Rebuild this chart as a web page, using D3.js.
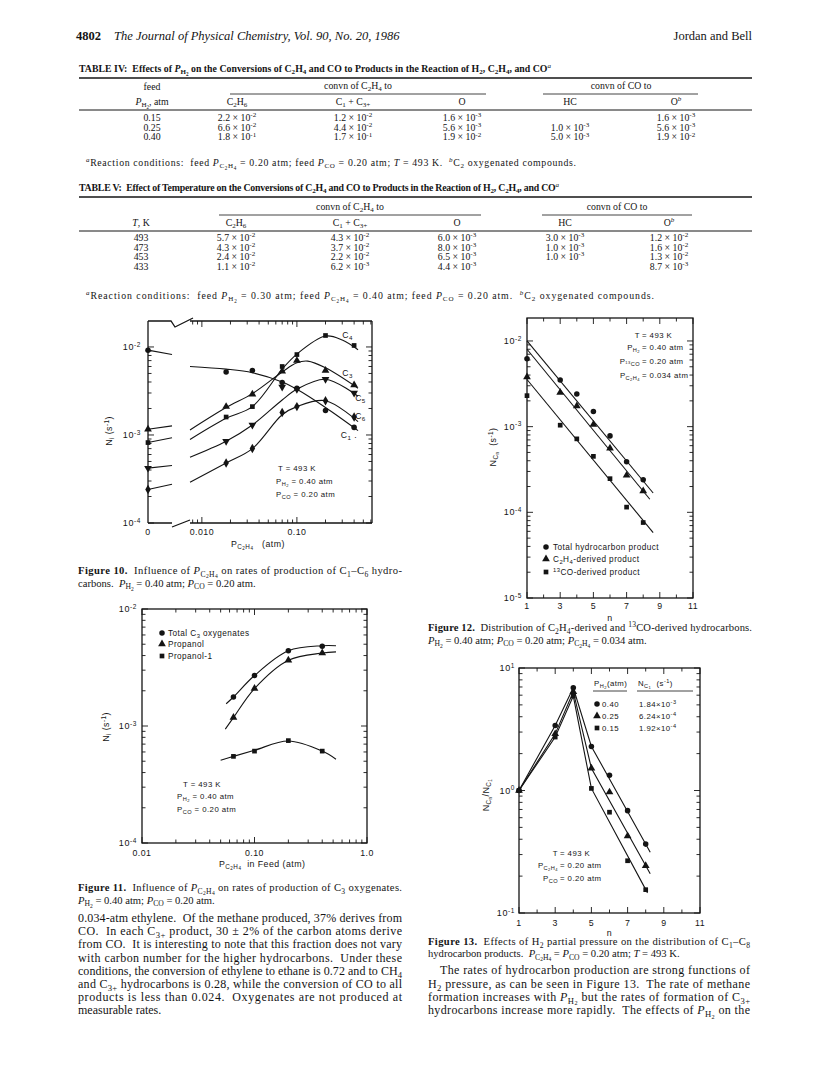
<!DOCTYPE html>
<html><head><meta charset="utf-8">
<script src="https://d3js.org/d3.v7.min.js"></script>
<style>html,body{margin:0;padding:0;background:#fff}svg{display:block}text{white-space:pre}</style>
</head><body>
<svg id="page" width="820" height="1068"></svg>
<script>
// ================= DATA =================
// Table IV
const T4_PH2  = ["0.15","0.25","0.40"];
const T4_C2H6 = ["2.2 × 10^{-2}","6.6 × 10^{-2}","1.8 × 10^{-1}"];
const T4_C1C3 = ["1.2 × 10^{-2}","4.4 × 10^{-2}","1.7 × 10^{-1}"];
const T4_O    = ["1.6 × 10^{-3}","5.6 × 10^{-3}","1.9 × 10^{-2}"];
const T4_HC   = ["","1.0 × 10^{-3}","5.0 × 10^{-3}"];
const T4_OB   = ["1.6 × 10^{-3}","5.6 × 10^{-3}","1.9 × 10^{-2}"];
// Table V
const T5_T    = ["493","473","453","433"];
const T5_C2H6 = ["5.7 × 10^{-2}","4.3 × 10^{-2}","2.4 × 10^{-2}","1.1 × 10^{-2}"];
const T5_C1C3 = ["4.3 × 10^{-2}","3.7 × 10^{-2}","2.2 × 10^{-2}","6.2 × 10^{-3}"];
const T5_O    = ["6.0 × 10^{-3}","8.0 × 10^{-3}","6.5 × 10^{-3}","4.4 × 10^{-3}"];
const T5_HC   = ["3.0 × 10^{-3}","1.0 × 10^{-3}","1.0 × 10^{-3}",""];
const T5_OB   = ["1.2 × 10^{-2}","1.6 × 10^{-2}","1.3 × 10^{-2}","8.7 × 10^{-3}"];

// Figure 10 : N_i vs P_C2H4 (atm); F10_ZERO holds the P = 0 value and the end of its short segment
const F10_X   = [0.018, 0.034, 0.070, 0.10, 0.20, 0.40];
const F10_C1  = [5.2e-3, 5.4e-3, 3.95e-3, 3.4e-3, 1.9e-3, 1.22e-3];
const F10_C3  = [2.1e-3, 2.9e-3, 5.3e-3, 7.0e-3, 5.4e-3, 3.7e-3];
const F10_C4  = [1.6e-3, 2.1e-3, 6.0e-3, 8.2e-3, 1.35e-2, 1.04e-2];
const F10_C5  = [8.5e-4, 1.3e-3, 3.5e-3, 3.3e-3, 4.3e-3, 3.0e-3];
const F10_C6  = [4.8e-4, 7.0e-4, 1.8e-3, 2.1e-3, 2.45e-3, 1.6e-3];
const F10_ZERO = {C1:[9.2e-3,8.2e-3], C3:[1.16e-3,1.27e-3], C4:[8.2e-4,9.3e-4], C5:[4.2e-4,4.5e-4], C6:[2.4e-4,2.76e-4]};
const F10_FIT_C1 = [[0.0075,6.0e-3],[0.018,5.6e-3],[0.034,5.1e-3],[0.07,4.0e-3],[0.10,3.3e-3],[0.20,2.05e-3],[0.44,1.12e-3]];
const F10_FIT_C3 = [[0.0075,1.14e-3],[0.018,2.05e-3],[0.034,2.95e-3],[0.07,5.2e-3],[0.10,6.6e-3],[0.13,6.9e-3],[0.20,5.8e-3],[0.44,3.4e-3]];
const F10_FIT_C4 = [[0.0075,8.9e-4],[0.018,1.55e-3],[0.034,2.1e-3],[0.07,5.6e-3],[0.10,8.3e-3],[0.20,1.33e-2],[0.30,1.2e-2],[0.44,9.3e-3]];
const F10_FIT_C5 = [[0.0075,5.6e-4],[0.018,8.5e-4],[0.034,1.3e-3],[0.07,2.5e-3],[0.10,3.3e-3],[0.20,4.3e-3],[0.44,2.75e-3]];
const F10_FIT_C6 = [[0.0075,2.9e-4],[0.018,4.8e-4],[0.034,7.0e-4],[0.07,1.7e-3],[0.10,2.1e-3],[0.20,2.45e-3],[0.44,1.42e-3]];
const F10_LABELS = [["C_4",0.30,1.37e-2],["C_3",0.30,5.1e-3],["C_5",0.41,2.63e-3],["C_6",0.41,1.64e-3],["C_1 .",0.29,1.0e-3]];

// Figure 11 : C3 oxygenates
const F11_X     = [0.065, 0.10, 0.20, 0.40];
const F11_TOTAL = [1.77e-3, 2.7e-3, 4.4e-3, 4.8e-3];
const F11_PROP  = [1.18e-3, 2.09e-3, 3.65e-3, 4.2e-3];
const F11_PROP1 = [5.5e-4, 6.1e-4, 7.5e-4, 6.1e-4];
const F11_FIT_TOTAL = [[0.056,1.55e-3],[0.065,1.77e-3],[0.10,2.7e-3],[0.20,4.4e-3],[0.40,4.85e-3],[0.53,4.85e-3]];
const F11_FIT_PROP  = [[0.055,9.4e-4],[0.065,1.18e-3],[0.10,2.09e-3],[0.20,3.65e-3],[0.40,4.2e-3],[0.53,4.3e-3]];
const F11_FIT_PROP1 = [[0.050,5.1e-4],[0.065,5.5e-4],[0.10,6.2e-4],[0.20,7.45e-4],[0.40,6.1e-4],[0.53,5.2e-4]];

// Figure 12 : N_Cn vs n
const F12_N     = [1,3,4,5,6,7,8];
const F12_TOTAL = [6.2e-3, 3.5e-3, 2.4e-3, 1.5e-3, 7.8e-4, 3.9e-4, 2.4e-4];
const F12_C2H4  = [3.8e-3, 2.5e-3, 1.74e-3, 1.06e-3, 5.6e-4, 2.7e-4, 1.77e-4];
const F12_13CO  = [2.3e-3, 1.04e-3, 7.2e-4, 4.5e-4, 2.47e-4, 1.15e-4, 7.6e-5];
const F12_FIT_TOTAL = [[1,1.0e-2],[8.6,1.68e-4]];
const F12_FIT_C2H4  = [[1,8.0e-3],[8.4,1.42e-4]];
const F12_FIT_13CO  = [[1,3.55e-3],[8.6,5.8e-5]];

// Figure 13 : N_Cn/N_C1 vs n
const F13_N   = [1,3,4,5,6,7,8];
const F13_040 = [1.0, 3.4, 6.9, 2.29, 1.33, 0.685, 0.365];
const F13_025 = [1.0, 2.9, 6.4, 1.52, 0.97, 0.425, 0.243];
const F13_015 = [1.0, 2.73, 5.9, 1.04, 0.665, 0.267, 0.155];
const F13_FIT_040 = [[1,1],[3,3.4],[4,6.9],[5,2.29],[8.25,0.313]];
const F13_FIT_025 = [[1,1],[3,2.9],[4,6.4],[5,1.52],[8.25,0.209]];
const F13_FIT_015 = [[1,1],[3,2.73],[4,5.9],[5,1.04],[8.1,0.146]];
const F13_LEG_P  = ["0.40","0.25","0.15"];
const F13_LEG_N  = ["1.84×10^{-3}","6.24×10^{-4}","1.92×10^{-4}"];

// ================= HELPERS =================
const SERIF = "'Liberation Serif','Times New Roman',serif";
const SANS  = "'Liberation Sans',Arial,sans-serif";
const INK = "#141414";
const svg = d3.select('#page');
svg.append('rect').attr('width',820).attr('height',1068).attr('fill','#fff');

function parseRich(s){
  const runs=[]; let i=0, italic=false, bold=false;
  function rec(off, sc, depth){
    let buf='';
    const flush=()=>{ if(buf){ runs.push({t:buf,off,sc,italic,bold}); buf=''; } };
    while(i<s.length){
      const c=s[i];
      if(c==='}'){ flush(); i++; return; }
      if(c==='_'||c==='^'){
        flush(); i++;
        const k = depth>0 ? 0.7 : 1;
        const noff = c==='_' ? off+0.25*sc*k : off-0.38*sc;
        const nsc = sc*0.72;
        if(s[i]==='{'){ i++; rec(noff,nsc,depth+1); }
        else { runs.push({t:s[i],off:noff,sc:nsc,italic,bold}); i++; }
        continue;
      }
      if(c==='|'){ flush(); italic=!italic; i++; continue; }
      if(c==='#'){ flush(); bold=!bold; i++; continue; }
      buf+=c; i++;
    }
    flush();
  }
  rec(0,1,0);
  return runs;
}
function rich(g,x,y,s,o={}){
  const fs=o.size||11;
  const t=g.append('text').attr('x',x).attr('y',y)
    .attr('font-family',o.family||SERIF).attr('font-size',fs)
    .attr('text-anchor',o.anchor||'start').attr('fill',INK);
  if(o.ls!=null) t.attr('letter-spacing',o.ls);
  if(o.weight) t.attr('font-weight',o.weight);
  if(o.italic) t.attr('font-style','italic');
  let prev=0;
  parseRich(s).forEach(r=>{
    const ts=t.append('tspan').text(r.t);
    if(r.sc!==1) ts.attr('font-size',(fs*r.sc).toFixed(2));
    const dy=(r.off-prev)*fs; if(Math.abs(dy)>1e-6) ts.attr('dy',dy.toFixed(2));
    prev=r.off;
    if(r.italic) ts.attr('font-style','italic');
    if(r.bold) ts.attr('font-weight','bold');
  });
  if(o.width) t.attr('textLength',o.width).attr('lengthAdjust','spacing');
  if(o.rotate!=null) t.attr('transform',`rotate(${o.rotate},${x},${y})`);
  return t;
}
function hline(g,x1,x2,y,w=0.8){ g.append('line').attr('x1',x1).attr('x2',x2).attr('y1',y).attr('y2',y).attr('stroke',INK).attr('stroke-width',w); }
function seg(g,x1,y1,x2,y2,w=1){ g.append('line').attr('x1',x1).attr('x2',x2).attr('y1',y1).attr('y2',y2).attr('stroke',INK).attr('stroke-width',w); }
function para(g,x,y0,lead,lines,width,size,justifyLast){
  lines.forEach((l,i)=>{
    const txt = typeof l==='string'? l : l.t;
    const ind = typeof l==='string'? 0 : (l.indent||0);
    const just = i<lines.length-1 || justifyLast;
    rich(g,x+ind,y0+i*lead,txt,{size, width: just? width-ind : null});
  });
}
const SYM = {
  circle: d3.symbol(d3.symbolCircle,24)(),
  tri:    d3.symbol(d3.symbolTriangle,26)(),
  down:   d3.symbol(d3.symbolTriangle,26)(),
  square: d3.symbol(d3.symbolSquare,22)(),
  diamond:d3.symbol(d3.symbolDiamond,26)()
};
function marker(g,type,x,y){
  g.append('path').attr('d',SYM[type]).attr('fill',INK)
   .attr('transform',`translate(${x},${y})${type==='down'?' rotate(180)':''}`);
}
function isMajor(v){ const l=Math.log10(v); return Math.abs(l-Math.round(l))<1e-9; }
function yLogTicks(g,ys,xl,xr,labelX,fs){
  ys.ticks().forEach(v=>{
    const y=ys(v), L=isMajor(v)?6:3.5;
    seg(g,xl,y,xl+L,y,0.9); seg(g,xr-L,y,xr,y,0.9);
    if(isMajor(v) && labelX!=null)
      rich(g,labelX,y+3,`10^{${Math.round(Math.log10(v))}}`,{family:SANS,size:fs,anchor:'end',ls:0.6});
  });
}
function xTicksTB(g,xs,vals,yTop,yBot,majorFn){
  vals.forEach(v=>{
    const x=xs(v), L=majorFn(v)?6:3.5;
    seg(g,x,yBot,x,yBot-L,0.9); seg(g,x,yTop,x,yTop+L,0.9);
  });
}
function frame(g,x0,y0,x1,y1){
  g.append('rect').attr('x',x0).attr('y',y0).attr('width',x1-x0).attr('height',y1-y0)
   .attr('fill','none').attr('stroke',INK).attr('stroke-width',1.3);
}
const FT = {family:SANS, size:8.2, ls:0.45};
function ft(extra){ return Object.assign({},FT,extra||{}); }

// ================= PAGE HEADER =================
const hdr = svg.append('g');
rich(hdr,76,40,"4802",{size:12.5,weight:'bold'});
rich(hdr,114,40,"The Journal of Physical Chemistry, Vol. 90, No. 20, 1986",{size:12.5,italic:true});
rich(hdr,752,40,"Jordan and Bell",{size:12.5,anchor:'end'});

// ================= TABLE IV =================
const t4 = svg.append('g');
rich(t4,79,72,"#TABLE IV:  Effects of |P|_{H_2} on the Conversions of C_2H_4 and CO to Products in the Reaction of H_2, C_2H_4, and CO#^{|a|}",{size:9.8,width:472});
hline(t4,79,752,78,1.4);
const C4X=[152,237,353,462,570,676];
rich(t4,C4X[0],90,"feed",{size:9.8,anchor:'middle'});
rich(t4,358,89,"convn of C_2H_4 to",{size:9.8,anchor:'middle'});
rich(t4,621,89,"convn of CO to",{size:9.8,anchor:'middle'});
hline(t4,230,486,94); hline(t4,543,698,94);
["|P|_{H_2}, atm","C_2H_6","C_1 + C_{3+}","O","HC","O^{|b|}"].forEach((h,i)=>rich(t4,C4X[i],105,h,{size:9.8,anchor:'middle'}));
hline(t4,79,752,110,1.0);
[T4_PH2,T4_C2H6,T4_C1C3,T4_O,T4_HC,T4_OB].forEach((col,ci)=>col.forEach((v,ri)=>{ if(v) rich(t4,C4X[ci],121+ri*9.7,v,{size:9.8,anchor:'middle'}); }));
rich(t4,86,166,"^{|a|}Reaction conditions:  feed |P|_{C_2H_4} = 0.20 atm; feed |P|_{CO} = 0.20 atm; |T| = 493 K.  ^{|b|}C_2 oxygenated compounds.",{size:9.8,width:490});

// ================= TABLE V =================
const t5 = svg.append('g');
rich(t5,79,191,"#TABLE V:  Effect of Temperature on the Conversions of C_2H_4 and CO to Products in the Reaction of H_2, C_2H_4, and CO#^{|a|}",{size:9.8,width:480});
hline(t5,79,752,197,1.4);
const C5X=[141,236,350,457,565,669];
rich(t5,350,210,"convn of C_2H_4 to",{size:9.8,anchor:'middle'});
rich(t5,617,210,"convn of CO to",{size:9.8,anchor:'middle'});
hline(t5,219,481,215); hline(t5,542,692,215);
["|T|, K","C_2H_6","C_1 + C_{3+}","O","HC","O^{|b|}"].forEach((h,i)=>rich(t5,C5X[i],226,h,{size:9.8,anchor:'middle'}));
hline(t5,79,752,231,1.0);
[T5_T,T5_C2H6,T5_C1C3,T5_O,T5_HC,T5_OB].forEach((col,ci)=>col.forEach((v,ri)=>{ if(v) rich(t5,C5X[ci],241+ri*9.6,v,{size:9.8,anchor:'middle'}); }));
rich(t5,86,299,"^{|a|}Reaction conditions:  feed |P|_{H_2} = 0.30 atm; feed |P|_{C_2H_4} = 0.40 atm; feed |P|_{CO} = 0.20 atm.  ^{|b|}C_2 oxygenated compounds.",{size:9.8,width:568});

// ================= FIGURE 10 =================
(function(){
  const g=svg.append('g');
  const X0=148,X1=372,Y0=321,Y1=523,B0=172,B1=190;
  const ys=d3.scaleLog().domain([1e-4,Math.pow(10,-1.705)]).range([Y1,Y0]);
  const xr=d3.scaleLog().domain([0.0075,0.617]).range([B1,X1]);
  const xl=d3.scaleLinear().domain([0,0.002]).range([X0,B0]);
  seg(g,X0,Y0,X0,Y1,1.3); seg(g,X1,Y0,X1,Y1,1.3);
  g.append('path').attr('fill','none').attr('stroke',INK).attr('stroke-width',1.3)
   .attr('d',`M${X0},${Y0}H${B0-1}L${B0+3},${Y0+6}L${B1+3},${Y0-3}M${B1},${Y0}H${X1}`+
             `M${X0},${Y1}H${B0}M${B0},${Y1+4}L${B1},${Y1-3}M${B1},${Y1}H${X1}`);
  yLogTicks(g,ys,X0,X1,141,9);
  xTicksTB(g,xr,xr.ticks(),Y0,Y1,isMajor);
  rich(g,X0,535,"0",ft({anchor:'middle',size:8.8}));
  rich(g,xr(0.01),535,"0.010",ft({anchor:'middle',size:8.8}));
  rich(g,xr(0.1),535,"0.10",ft({anchor:'middle',size:8.8}));
  rich(g,231,547,"P_{C_2H_4}   (atm)",ft({size:8.8}));
  rich(g,112,431,"N_i (s^{-1})",ft({size:8.8,anchor:'middle',rotate:-90}));
  rich(g,278,471,"T = 493 K",ft({size:7.8}));
  rich(g,276,484,"P_{H_2} = 0.40 atm",ft({size:7.8}));
  rich(g,276,497,"P_{CO} = 0.20 atm",ft({size:7.8}));
  const line=d3.line().x(d=>xr(d[0])).y(d=>ys(d[1])).curve(d3.curveCatmullRom.alpha(0.5));
  const series=[["C1",F10_C1,F10_FIT_C1,'circle'],["C3",F10_C3,F10_FIT_C3,'tri'],["C4",F10_C4,F10_FIT_C4,'square'],["C5",F10_C5,F10_FIT_C5,'down'],["C6",F10_C6,F10_FIT_C6,'diamond']];
  series.forEach(([k,vals,fit,sym])=>{
    g.append('path').attr('d',line(fit)).attr('fill','none').attr('stroke',INK).attr('stroke-width',1.1);
    const z=F10_ZERO[k];
    g.append('path').attr('d',d3.line().x(d=>xl(d[0])).y(d=>ys(d[1]))([[0,z[0]],[0.002,z[1]]])).attr('fill','none').attr('stroke',INK).attr('stroke-width',1.1);
    marker(g,sym,xl(0),ys(z[0]));
    vals.forEach((v,i)=>marker(g,sym,xr(F10_X[i]),ys(v)));
  });
  F10_LABELS.forEach(([t,x,y])=>rich(g,xr(x),ys(y)+3,t,ft({size:8.6})));
  para(g,78,574,12.6,["#Figure 10.#  Influence of |P|_{C_2H_4} on rates of production of C_1–C_6 hydro-","carbons.  |P|_{H_2} = 0.40 atm; |P|_{CO} = 0.20 atm."],324,10.6);
})();

// ================= FIGURE 11 =================
(function(){
  const g=svg.append('g');
  const X0=142,X1=367,Y0=609,Y1=843;
  const ys=d3.scaleLog().domain([1e-4,1e-2]).range([Y1,Y0]);
  const xs=d3.scaleLog().domain([0.01,1]).range([X0,X1]);
  frame(g,X0,Y0,X1,Y1);
  yLogTicks(g,ys,X0,X1,137,9);
  xTicksTB(g,xs,xs.ticks(),Y0,Y1,isMajor);
  rich(g,xs(0.01),856,"0.01",ft({anchor:'middle',size:8.8}));
  rich(g,xs(0.1),856,"0.10",ft({anchor:'middle',size:8.8}));
  rich(g,xs(1),856,"1.0",ft({anchor:'middle',size:8.8}));
  rich(g,219,867,"P_{C_2H_4}  in Feed (atm)",ft({size:8.8}));
  rich(g,109,727,"N_i (s^{-1})",ft({size:8.8,anchor:'middle',rotate:-90}));
  [["circle","Total C_3 oxygenates",636],["tri","Propanol",647],["square","Propanol-1",659]].forEach(([s,t,y])=>{
    marker(g,s,162,y-3); rich(g,168,y,t,ft());
  });
  rich(g,183,787,"T = 493 K",ft({size:7.8}));
  rich(g,177,799,"P_{H_2} = 0.40 atm",ft({size:7.8}));
  rich(g,177,812,"P_{CO} = 0.20 atm",ft({size:7.8}));
  const line=d3.line().x(d=>xs(d[0])).y(d=>ys(d[1])).curve(d3.curveCatmullRom.alpha(0.5));
  [[F11_TOTAL,F11_FIT_TOTAL,'circle'],[F11_PROP,F11_FIT_PROP,'tri'],[F11_PROP1,F11_FIT_PROP1,'square']].forEach(([vals,fit,sym])=>{
    g.append('path').attr('d',line(fit)).attr('fill','none').attr('stroke',INK).attr('stroke-width',1.1);
    vals.forEach((v,i)=>marker(g,sym,xs(F11_X[i]),ys(v)));
  });
  para(g,78,891,12.6,["#Figure 11.#  Influence of |P|_{C_2H_4} on rates of production of C_3 oxygenates.","|P|_{H_2} = 0.40 atm; |P|_{CO} = 0.20 atm."],324,10.6);
})();

// left column body text
para(svg.append('g'),78,922,13.2,[
  "0.034-atm ethylene.  Of the methane produced, 37% derives from",
  "CO.  In each C_{3+} product, 30 ± 2% of the carbon atoms derive",
  "from CO.  It is interesting to note that this fraction does not vary",
  "with carbon number for the higher hydrocarbons.  Under these",
  "conditions, the conversion of ethylene to ethane is 0.72 and to CH_4",
  "and C_{3+} hydrocarbons is 0.28, while the conversion of CO to all",
  "products is less than 0.024.  Oxygenates are not produced at",
  "measurable rates."],324,12);

// ================= FIGURE 12 =================
(function(){
  const g=svg.append('g');
  const X0=527,X1=693,Y0=318,Y1=598;
  const ys=d3.scaleLog().domain([1e-5,Math.pow(10,-1.732)]).range([Y1,Y0]);
  const xs=d3.scaleLinear().domain([1,11]).range([X0,X1]);
  frame(g,X0,Y0,X1,Y1);
  yLogTicks(g,ys,X0,X1,522,9);
  xTicksTB(g,xs,d3.range(1,12),Y0,Y1,v=>v%2===1);
  d3.range(1,12,2).forEach(n=>rich(g,xs(n),609,String(n),ft({anchor:'middle',size:8.8})));
  rich(g,xs(6),621,"n",ft({anchor:'middle',size:8.8}));
  rich(g,496,447,"N_{C_n}  (s^{-1})",ft({size:8.8,anchor:'middle',rotate:-90}));
  [["T",338,"= 493 K"],["P_{H_2}",350,"= 0.40 atm"],["P_{^{13}CO}",364,"= 0.20 atm"],["P_{C_2H_4}",378,"= 0.034 atm"]].forEach(([a,y,b])=>{
    rich(g,640,y,a,ft({anchor:'end',size:7.8})); rich(g,642,y,b,ft({size:7.8}));
  });
  [["circle","Total hydrocarbon product",550],["tri","C_2H_4-derived product",562],["square","^{13}CO-derived product",575]].forEach(([s,t,y])=>{
    marker(g,s,546,y-3); rich(g,553,y,t,ft());
  });
  const line=d3.line().x(d=>xs(d[0])).y(d=>ys(d[1]));
  [[F12_TOTAL,F12_FIT_TOTAL,'circle'],[F12_C2H4,F12_FIT_C2H4,'tri'],[F12_13CO,F12_FIT_13CO,'square']].forEach(([vals,fit,sym])=>{
    g.append('path').attr('d',line(fit)).attr('fill','none').attr('stroke',INK).attr('stroke-width',1.1);
    vals.forEach((v,i)=>marker(g,sym,xs(F12_N[i]),ys(v)));
  });
  para(g,428,631,12.6,["#Figure 12.#  Distribution of C_2H_4-derived and ^{13}CO-derived hydrocarbons.","|P|_{H_2} = 0.40 atm; |P|_{CO} = 0.20 atm; |P|_{C_2H_4} = 0.034 atm."],324,10.6);
})();

// ================= FIGURE 13 =================
(function(){
  const g=svg.append('g');
  const X0=519,X1=700,Y0=668,Y1=913;
  const ys=d3.scaleLog().domain([0.1,10]).range([Y1,Y0]);
  const xs=d3.scaleLinear().domain([1,11]).range([X0,X1]);
  frame(g,X0,Y0,X1,Y1);
  yLogTicks(g,ys,X0,X1,515,9);
  xTicksTB(g,xs,d3.range(1,12),Y0,Y1,v=>v%2===1);
  d3.range(1,12,2).forEach(n=>rich(g,xs(n),926,String(n),ft({anchor:'middle',size:8.8})));
  rich(g,xs(6),936,"n",ft({anchor:'middle',size:8.8}));
  rich(g,489,795,"N_{C_n}/N_{C_1}",ft({size:8.8,anchor:'middle',rotate:-90}));
  rich(g,594,686,"P_{H_2}(atm)",ft({size:7.8}));
  rich(g,638,686,"N_{C_1}  (s^{-1})",ft({size:7.8}));
  hline(g,593,627,691,0.8); hline(g,637,693,691,0.8);
  [['circle',707],['tri',719],['square',731]].forEach(([s,y],i)=>{
    marker(g,s,597,y-3);
    rich(g,602,y,F13_LEG_P[i],ft({size:7.8}));
    rich(g,639,y,F13_LEG_N[i],ft({size:7.8}));
  });
  [["T",856,"= 493 K"],["P_{C_2H_4}",868,"= 0.20 atm"],["P_{CO}",881,"= 0.20 atm"]].forEach(([a,y,b])=>{
    rich(g,558,y,a,ft({anchor:'end',size:7.8})); rich(g,560,y,b,ft({size:7.8}));
  });
  const line=d3.line().x(d=>xs(d[0])).y(d=>ys(d[1]));
  [[F13_040,F13_FIT_040,'circle'],[F13_025,F13_FIT_025,'tri'],[F13_015,F13_FIT_015,'square']].forEach(([vals,fit,sym])=>{
    g.append('path').attr('d',line(fit)).attr('fill','none').attr('stroke',INK).attr('stroke-width',1.1);
    vals.forEach((v,i)=>marker(g,sym,xs(F13_N[i]),ys(v)));
  });
  para(g,428,945,12.4,["#Figure 13.#  Effects of H_2 partial pressure on the distribution of C_1–C_8","hydrocarbon products.  |P|_{C_2H_4} = |P|_{CO} = 0.20 atm; |T| = 493 K."],322,10.6);
})();

// right column body text (bottom line aligned with the left column)
para(svg.append('g'),428,974.4,13.2,[
  {t:"The rates of hydrocarbon production are strong functions of",indent:12},
  "H_2 pressure, as can be seen in Figure 13.  The rate of methane",
  "formation increases with |P|_{H_2} but the rates of formation of C_{3+}",
  "hydrocarbons increase more rapidly.  The effects of |P|_{H_2} on the"],322,12,true);
</script>
</body></html>
